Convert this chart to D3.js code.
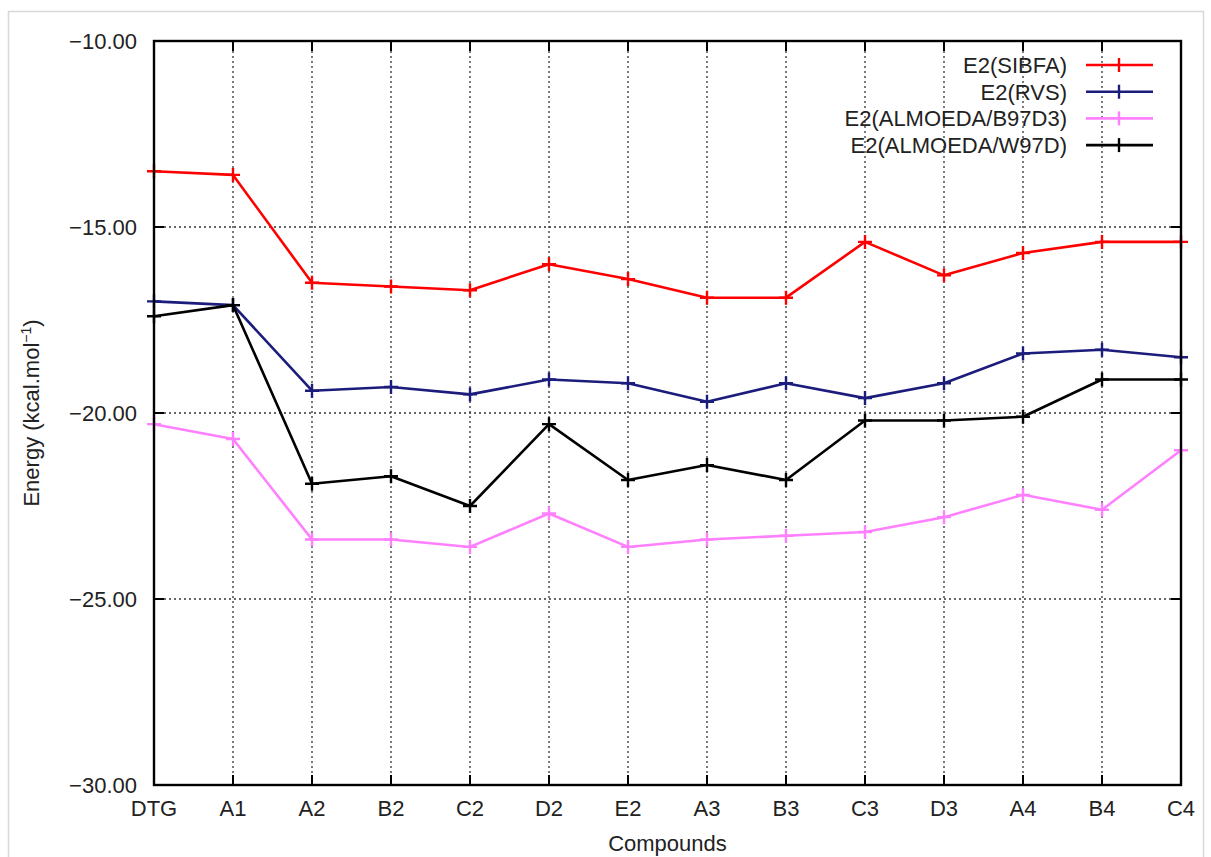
<!DOCTYPE html>
<html>
<head>
<meta charset="utf-8">
<script src="https://cdn.jsdelivr.net/npm/d3@7"></script>
<style>
  body { margin: 0; background: #fff; }
  text { font-family: "Liberation Sans", Arial, sans-serif; fill: #222; }
</style>
</head>
<body>
<svg id="chart" width="1211" height="857"></svg>
<script>
// Data
const compounds = ['DTG', 'A1', 'A2', 'B2', 'C2', 'D2', 'E2', 'A3', 'B3', 'C3', 'D3', 'A4', 'B4', 'C4'];
const sibfa = [-13.5, -13.6, -16.5, -16.6, -16.7, -16.0, -16.4, -16.9, -16.9, -15.4, -16.3, -15.7, -15.4, -15.4];
const rvs   = [-17.0, -17.1, -19.4, -19.3, -19.5, -19.1, -19.2, -19.7, -19.2, -19.6, -19.2, -18.4, -18.3, -18.5];
const b97d3 = [-20.3, -20.7, -23.4, -23.4, -23.6, -22.7, -23.6, -23.4, -23.3, -23.2, -22.8, -22.2, -22.6, -21.0];
const w97d  = [-17.4, -17.1, -21.9, -21.7, -22.5, -20.3, -21.8, -21.4, -21.8, -20.2, -20.2, -20.1, -19.1, -19.1];
const yTicks = [-30, -25, -20, -15, -10];

const seriesNames = ['E2(SIBFA)', 'E2(RVS)', 'E2(ALMOEDA/B97D3)', 'E2(ALMOEDA/W97D)'];
const seriesValues = [sibfa, rvs, b97d3, w97d];
const seriesColors = ['#ff0000', '#1c1c7c', '#ff80ff', '#000000'];

const plot = { left: 154, right: 1181, top: 41, bottom: 785 };
const fontSize = '22px';

const svg = d3.select('#chart');

// light outer frame
svg.append('rect')
  .attr('x', 8.5).attr('y', 11.5)
  .attr('width', 1195).attr('height', 860)
  .attr('fill', 'none')
  .attr('stroke', '#d8d8d8')
  .attr('stroke-width', 1.5);

// Scales
const x = d3.scalePoint()
  .domain(compounds)
  .range([plot.left, plot.right]);

const y = d3.scaleLinear()
  .domain([-30, -10])
  .range([plot.bottom, plot.top]);

// Grid
const grid = svg.append('g');
grid.selectAll('.vgrid')
  .data(compounds.slice(1, -1))
  .enter()
  .append('line')
  .attr('x1', d => x(d)).attr('x2', d => x(d))
  .attr('y1', plot.top).attr('y2', plot.bottom)
  .attr('stroke', '#333').attr('stroke-width', 1.3)
  .attr('stroke-dasharray', '2,3');

grid.selectAll('.hgrid')
  .data(yTicks.slice(1, -1))
  .enter()
  .append('line')
  .attr('x1', plot.left).attr('x2', plot.right)
  .attr('y1', d => y(d)).attr('y2', d => y(d))
  .attr('stroke', '#333').attr('stroke-width', 1.3)
  .attr('stroke-dasharray', '2,3');

// Ticks (inward, mirrored gnuplot style)
const tickLen = 10;
const ticks = svg.append('g').attr('stroke', '#000').attr('stroke-width', 2);
yTicks.forEach(t => {
  ticks.append('line').attr('x1', plot.left).attr('x2', plot.left + tickLen).attr('y1', y(t)).attr('y2', y(t));
  ticks.append('line').attr('x1', plot.right).attr('x2', plot.right - tickLen).attr('y1', y(t)).attr('y2', y(t));
});
compounds.forEach(c => {
  ticks.append('line').attr('x1', x(c)).attr('x2', x(c)).attr('y1', plot.bottom).attr('y2', plot.bottom - tickLen);
  ticks.append('line').attr('x1', x(c)).attr('x2', x(c)).attr('y1', plot.top).attr('y2', plot.top + tickLen);
});

// Y tick labels
svg.selectAll('.ylab')
  .data(yTicks)
  .enter()
  .append('text')
  .attr('x', 137)
  .attr('y', d => y(d))
  .attr('dy', '0.36em')
  .attr('text-anchor', 'end')
  .style('font-size', fontSize)
  .text(d => d3.format('.2f')(d).replace('-', '\u2212'));

// X tick labels
svg.selectAll('.xlab')
  .data(compounds)
  .enter()
  .append('text')
  .attr('x', d => x(d))
  .attr('y', 816)
  .attr('text-anchor', 'middle')
  .style('font-size', fontSize)
  .text(d => d);

// Axis titles
svg.append('text')
  .attr('x', (plot.left + plot.right) / 2)
  .attr('y', 851)
  .attr('text-anchor', 'middle')
  .style('font-size', fontSize)
  .text('Compounds');

const ylabel = svg.append('text')
  .attr('transform', `translate(39,${(plot.top + plot.bottom) / 2}) rotate(-90)`)
  .attr('text-anchor', 'middle')
  .style('font-size', fontSize);
ylabel.append('tspan').text('Energy (kcal.mol');
ylabel.append('tspan').attr('dy', -8).style('font-size', '14px').text('\u22121');
ylabel.append('tspan').attr('dy', 8).text(')');

// Lines + markers
const line = d3.line()
  .x((d, i) => x(compounds[i]))
  .y(d => y(d));

const plus = 7;
seriesValues.forEach((vals, k) => {
  const g = svg.append('g');
  g.append('path')
    .datum(vals)
    .attr('d', line)
    .attr('fill', 'none')
    .attr('stroke', seriesColors[k])
    .attr('stroke-width', 2.6)
    .attr('stroke-linejoin', 'round');
  g.selectAll('.mk')
    .data(vals)
    .enter()
    .append('path')
    .attr('d', (d, i) => {
      const cx = x(compounds[i]), cy = y(d);
      return `M${cx - plus},${cy}H${cx + plus}M${cx},${cy - plus}V${cy + plus}`;
    })
    .attr('stroke', seriesColors[k])
    .attr('stroke-width', 2.4);
});

// Frame
svg.append('rect')
  .attr('x', plot.left).attr('y', plot.top)
  .attr('width', plot.right - plot.left)
  .attr('height', plot.bottom - plot.top)
  .attr('fill', 'none')
  .attr('stroke', '#000')
  .attr('stroke-width', 2.4);

// Legend
const legend = svg.append('g');
seriesNames.forEach((name, k) => {
  const ly = 65 + k * 26.7;
  legend.append('text')
    .attr('x', 1067).attr('y', ly)
    .attr('dy', '0.36em')
    .attr('text-anchor', 'end')
    .style('font-size', fontSize)
    .text(name);
  legend.append('line')
    .attr('x1', 1086).attr('x2', 1153)
    .attr('y1', ly).attr('y2', ly)
    .attr('stroke', seriesColors[k]).attr('stroke-width', 2.6);
  legend.append('path')
    .attr('d', `M1119,${ly - plus}V${ly + plus}`)
    .attr('stroke', seriesColors[k]).attr('stroke-width', 2.4);
});
</script>
</body>
</html>
